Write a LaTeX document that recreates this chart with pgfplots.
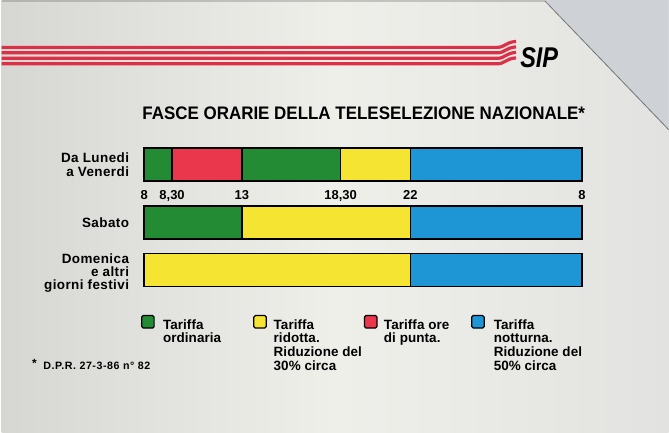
\documentclass[border=0pt]{standalone}
\usepackage{pgfplots}
\pgfplotsset{compat=1.18}
\usepackage{pgfplotstable}
\usepackage{graphicx}
\usepackage{fontspec}
\setmainfont{Liberation Sans}
\newfontfamily\spaced[LetterSpace=3]{Liberation Sans}
\newfontfamily\legfont[LetterSpace=0.5]{Liberation Sans}
\newfontfamily\fnfont[LetterSpace=5]{Liberation Sans}

\definecolor{cgreen}{RGB}{34,139,52}
\definecolor{cred}{RGB}{235,55,75}
\definecolor{cyellow}{RGB}{246,228,50}
\definecolor{cblue}{RGB}{30,150,213}
\definecolor{cardL}{RGB}{214,215,211}
\definecolor{cardM}{RGB}{239,239,234}
\definecolor{cardR}{RGB}{226,227,224}
\definecolor{outside}{RGB}{206,209,214}
\definecolor{stripe}{RGB}{220,48,70}

% Segment widths in the card's drawn scale (the time scale on the card is schematic):
% boundaries 8 | 8,30 | 13 | 18,30 | 22 | 8  at 0, 28, 98, 197, 267, 439
\pgfplotstableread{
row  s1  s2  s3  s4   s5
165  28  70  99  70   172
223  98  0   0   169  172
271  0   0   0   267  172
}\fasce

\begin{document}
\begin{tikzpicture}
\begin{scope}[x=1pt,y=-1pt]
  \shade[left color=cardL, right color=cardR, middle color=cardM] (0,0) rectangle (669,434);
  \fill[outside] (545,0) -- (669,0) -- (669,130) -- cycle;
  \draw[black!55, line width=0.8pt] (0,1) -- (545,1) -- (669,130);
  % red stripes
  \foreach \y in {47.5,53,58.5,64}
    \draw[stripe, line width=3.2pt] (0,\y) -- (497,\y) .. controls (505,\y) and (505,\y-5) .. (516,\y-6);
  % logo
  \node[anchor=base west, inner sep=0pt] at (520,67.5) {\resizebox{38pt}{20pt}{\bfseries\itshape SIP}};
  % title
  \node[anchor=base west, inner sep=0pt] at (141,119.7)
    {\resizebox{444pt}{12.7pt}{\bfseries FASCE ORARIE DELLA TELESELEZIONE NAZIONALE*}};
\end{scope}

\begin{axis}[
  at={(143pt,-288pt)}, anchor=south west,
  width=439pt, height=140pt, scale only axis,
  xmin=0, xmax=439, ymin=148, ymax=288, y dir=reverse,
  xbar stacked, bar width=33,
  axis line style={draw=none}, major tick length=0pt, clip=false,
  xtick={0,28,98,197,267,439},
  xticklabels={8,{8,30},13,{18,30},22,8},
  xticklabel style={anchor=base, yshift=88pt, inner sep=0pt,
    font=\fontsize{13}{15}\selectfont\bfseries},
  ytick={165,223,271},
  yticklabels={{Da Lunedi\\a Venerdi},{Sabato},{\raisebox{0pt}[12.5pt][0pt]{Domenica}\\[-1.6pt]e altri\\[-1.6pt]\raisebox{0pt}[\height][0pt]{giorni festivi}}},
  yticklabel style={anchor=east, align=right, inner sep=0pt, xshift=-15pt,
    font=\spaced\fontsize{13.5}{14.6}\selectfont\bfseries},
  every axis plot/.append style={draw=black, line width=1.5pt},
]
\addplot[fill=cgreen]  table[x=s1,y=row]{\fasce};
\addplot[fill=cred]    table[x=s2,y=row]{\fasce};
\addplot[fill=cgreen]  table[x=s3,y=row]{\fasce};
\addplot[fill=cyellow] table[x=s4,y=row]{\fasce};
\addplot[fill=cblue]   table[x=s5,y=row]{\fasce};
\end{axis}

\begin{scope}[x=1pt,y=-1pt, leg/.style={anchor=base west, inner sep=0pt,
    font=\legfont\fontsize{13.5}{13.6}\selectfont\bfseries}]
  \foreach \c/\x in {cgreen/140.5, cyellow/253, cred/364, cblue/471.5}
    \draw[fill=\c, line width=1.2pt, rounded corners=1.5pt] (\x,316.5) rectangle ++(12.5,12.5);
  \node[leg] at (161.7,330) {\begin{tabular}[t]{@{}l@{}}Tariffa\\ordinaria\end{tabular}};
  \node[leg] at (272.7,330) {\begin{tabular}[t]{@{}l@{}}Tariffa\\ridotta.\\Riduzione del\\30\% circa\end{tabular}};
  \node[leg] at (383.3,330) {\begin{tabular}[t]{@{}l@{}}Tariffa ore\\di punta.\end{tabular}};
  \node[leg] at (493.5,330) {\begin{tabular}[t]{@{}l@{}}Tariffa\\notturna.\\Riduzione del\\50\% circa\end{tabular}};
  % footnote
  \node[anchor=base, inner sep=0pt, font=\fontsize{12}{14}\selectfont\bfseries] at (33,369) {*};
  \node[anchor=base west, inner sep=0pt, font=\fnfont\fontsize{10.7}{13}\selectfont\bfseries] at (41.7,371) {D.P.R. 27-3-86 n° 82};
\end{scope}
\end{tikzpicture}
\end{document}
